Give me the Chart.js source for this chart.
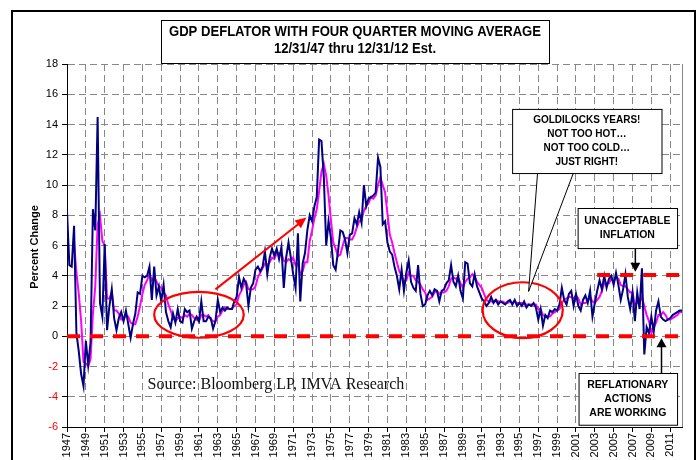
<!DOCTYPE html>
<html>
<head>
<meta charset="utf-8">
<script src="https://cdn.jsdelivr.net/npm/chart.js@4.4.0/dist/chart.umd.min.js"></script>
<style>
  html, body { margin: 0; padding: 0; background: #fff; }
  #wrap { width: 700px; height: 460px; }
</style>
</head>
<body>
<div id="wrap"><canvas id="chart" width="700" height="460"></canvas></div>
<script>
// quarterly, 1947Q1 .. 2012Q2 (percent change, annualized)
const deflator = [
  8.3, 4.7, 4.6, 7.3,    0.2, -1.0, -2.5, -3.3,  -0.3, -1.9, -0.4, 8.4,   7.0, 14.5, 2.2, 1.3,
  6.1, 0.4, 2.0, 3.1,    1.2, 0.4, 1.2, 1.6,     1.0, 1.7, 0.8, -0.1,    0.8, 1.5, 2.9, 2.8,
  4.0, 3.9, 4.0, 4.6,    2.4, 4.6, 2.7, 3.3,     2.3, 3.4, 1.6, 1.0,     0.6, 1.5, 0.9, 1.8,
  1.0, 0.9, 1.8, 1.6,    1.7, 0.5, 1.0, 1.3,     1.0, 2.3, 1.0, 1.0,     1.3, 1.2, 0.5, 1.0,
  2.4, 1.6, 1.9, 1.7,    1.9, 1.8, 1.8, 2.3,     2.6, 3.9, 3.2, 3.8,     3.5, 2.0, 3.2, 3.5,
  4.4, 4.6, 4.3, 4.6,    5.6, 4.1, 5.2, 5.8,     5.3, 5.8, 5.1, 5.9,     3.2, 5.2, 6.2, 5.2,
  4.1, 3.2, 6.8, 2.3,    4.8, 5.5, 7.0, 8.0,     7.6, 8.6, 9.2, 13.0,    12.9, 10.5, 6.0, 7.6,
  6.5, 4.7, 4.4, 5.6,    7.0, 6.9, 6.4, 5.5,     6.7, 6.8, 7.8, 7.4,     8.2, 7.5, 10.0, 8.6,
  9.1, 9.2, 9.3, 9.5,    11.8, 11.2, 7.4, 7.6,   6.2, 5.6, 5.4, 4.6,     4.0, 3.1, 4.4, 3.0,
  4.2, 5.0, 3.6, 3.2,    3.0, 4.7, 2.8, 2.0,     2.1, 2.7, 3.0, 2.7,     3.1, 3.0, 2.3, 3.0,
  3.1, 3.5, 3.7, 4.7,    3.6, 3.3, 4.0, 3.0,     2.5, 4.9, 4.8, 3.5,     3.3, 4.1, 3.3, 2.9,
  2.5, 2.3, 2.0, 2.2,    2.6, 2.2, 2.4, 2.1,     2.3, 2.2, 2.1, 2.3,     2.4, 2.1, 2.4, 2.0,
  2.2, 2.0, 2.3, 1.9,    2.1, 2.0, 2.2, 1.9,     1.1, 1.8, 0.7, 1.4,     1.2, 1.7, 1.6, 1.8,
  1.7, 2.1, 3.2, 2.4,    2.1, 2.8, 3.0, 2.0,     2.8, 2.0, 1.7, 2.4,     2.7, 2.2, 3.0, 1.3,
  2.2, 3.0, 3.7, 3.1,    4.0, 3.2, 3.8, 4.0,     3.4, 4.2, 3.4, 2.4,     3.1, 4.1, 2.6, 1.8,
  2.9, 1.0, 2.9, 1.8,    4.5, -1.2, 0.6, 0.2,    1.3, 0.3, 1.7, 2.3,     1.3, 1.1, 1.0, 1.1,
  1.2, 1.4, 1.5, 1.6,    1.7, 1.7
];

// four quarter moving average, same quarters
const movingAvg = [
  null, null, null, 6.2,  4.2, 2.8, 1.0, -1.7,   -1.8, -2.0, -1.5, 1.5,  3.3, 7.4, 8.0, 6.3,
  6.0, 2.5, 2.5, 2.9,    1.7, 1.7, 1.5, 1.1,     1.1, 1.4, 1.3, 0.9,     0.8, 0.8, 1.3, 2.0,
  2.8, 3.4, 3.7, 4.1,    3.7, 3.9, 3.6, 3.3,     3.2, 2.9, 2.7, 2.1,     1.7, 1.2, 1.0, 1.2,
  1.3, 1.2, 1.4, 1.3,    1.5, 1.4, 1.2, 1.1,     1.0, 1.4, 1.4, 1.3,     1.4, 1.1, 1.0, 1.0,
  1.3, 1.4, 1.7, 1.9,    1.8, 1.8, 1.8, 2.0,     2.1, 2.7, 3.0, 3.4,     3.6, 3.1, 3.1, 3.1,
  3.3, 3.9, 4.2, 4.5,    4.8, 4.7, 4.9, 5.2,     5.1, 5.5, 5.5, 5.5,     5.0, 4.9, 5.1, 5.0,
  5.2, 4.7, 4.8, 4.1,    4.3, 4.9, 4.9, 6.3,     7.0, 7.8, 8.4, 9.6,     10.9, 11.4, 10.6, 9.3,
  7.7, 6.2, 5.8, 5.3,    5.4, 6.0, 6.5, 6.5,     6.4, 6.4, 6.7, 7.2,     7.6, 7.7, 8.3, 8.6,
  8.8, 9.2, 9.1, 9.3,    10.0, 10.5, 10.0, 9.5,  8.1, 6.7, 6.2, 5.5,     4.9, 4.3, 4.0, 3.6,
  3.7, 4.2, 4.0, 4.0,    3.7, 3.6, 3.4, 3.1,     2.9, 2.4, 2.5, 2.6,     2.9, 3.0, 2.8, 2.9,
  2.9, 3.0, 3.3, 3.8,    3.9, 3.8, 3.9, 3.5,     3.2, 3.6, 3.8, 3.9,     4.1, 3.9, 3.6, 3.4,
  3.2, 2.8, 2.4, 2.3,    2.3, 2.3, 2.4, 2.3,     2.3, 2.3, 2.2, 2.2,     2.3, 2.2, 2.3, 2.2,
  2.2, 2.2, 2.1, 2.1,    2.1, 2.1, 2.1, 2.1,     1.8, 1.8, 1.4, 1.3,     1.3, 1.3, 1.5, 1.6,
  1.7, 1.8, 2.2, 2.4,    2.5, 2.6, 2.6, 2.5,     2.7, 2.5, 2.1, 2.2,     2.2, 2.3, 2.6, 2.3,
  2.2, 2.4, 2.6, 3.0,    3.5, 3.5, 3.5, 3.8,     3.6, 3.9, 3.8, 3.4,     3.3, 3.3, 3.1, 2.9,
  2.9, 2.1, 2.2, 2.2,    2.6, 2.0, 1.4, 1.0,     0.2, 0.6, 0.9, 1.4,     1.4, 1.6, 1.4, 1.1,
  1.1, 1.2, 1.3, 1.4,    1.6, 1.6
];

// one label every 8 quarters
const yearLabels = ['1947','1949','1951','1953','1955','1957','1959','1961','1963','1965','1967',
  '1969','1971','1973','1975','1977','1979','1981','1983','1985','1987','1989','1991','1993',
  '1995','1997','1999','2001','2003','2005','2007','2009','2011'];

const titleLines = ['GDP DEFLATOR WITH FOUR QUARTER MOVING AVERAGE', '12/31/47 thru 12/31/12 Est.'];
const goldilocksText = ['GOLDILOCKS YEARS!', 'NOT TOO HOT\u2026', 'NOT TOO COLD\u2026', 'JUST RIGHT!'];
const inflationText = ['UNACCEPTABLE', 'INFLATION'];
const reflationText = ['REFLATIONARY', 'ACTIONS', 'ARE WORKING'];
const sourceText = 'Source: Bloomberg LP, IMVA Research';

const lastQ = deflator.length - 1;

function boxText(ctx, lines, l, t, r, b, lh, font) {
  ctx.fillStyle = '#fff';
  ctx.fillRect(l, t, r - l, b - t);
  ctx.strokeStyle = '#000';
  ctx.lineWidth = 1;
  ctx.strokeRect(l + 0.5, t + 0.5, r - l, b - t);
  ctx.fillStyle = '#000';
  ctx.font = font;
  ctx.textAlign = 'center';
  ctx.textBaseline = 'middle';
  const cx = (l + r) / 2;
  const top = (t + b) / 2 - (lines.length - 1) * lh / 2;
  lines.forEach((s, k) => ctx.fillText(s, cx, top + k * lh));
}

function arrowHead(ctx, x1, y1, x2, y2, len, half) {
  const ang = Math.atan2(y2 - y1, x2 - x1);
  ctx.beginPath();
  ctx.moveTo(x2, y2);
  ctx.lineTo(x2 - len * Math.cos(ang) + half * Math.sin(ang), y2 - len * Math.sin(ang) - half * Math.cos(ang));
  ctx.lineTo(x2 - len * Math.cos(ang) - half * Math.sin(ang), y2 - len * Math.sin(ang) + half * Math.cos(ang));
  ctx.closePath();
  ctx.fill();
}

const frame = {
  id: 'frame',
  beforeDraw(chart) {
    const ctx = chart.ctx;
    ctx.save();
    ctx.fillStyle = '#fff';
    ctx.fillRect(0, 0, chart.width, chart.height);
    ctx.restore();
  },
  afterDraw(chart) {
    const {ctx, chartArea: a} = chart;
    ctx.save();
    // outer border
    ctx.strokeStyle = '#000';
    ctx.lineWidth = 2;
    ctx.strokeRect(12, 11, 683, 470);
    // plot right edge
    ctx.strokeStyle = '#888';
    ctx.lineWidth = 1;
    ctx.beginPath();
    ctx.moveTo(a.right + 0.5, a.top);
    ctx.lineTo(a.right + 0.5, a.bottom);
    ctx.stroke();
    // title box
    ctx.fillStyle = '#fff';
    ctx.fillRect(161, 20, 388, 44);
    ctx.strokeStyle = '#000';
    ctx.strokeRect(161.5, 20.5, 388, 43);
    ctx.fillStyle = '#000';
    ctx.font = "bold 14px 'Liberation Sans Narrow', 'Arial Narrow', 'Liberation Sans', sans-serif";
    ctx.textAlign = 'center';
    ctx.textBaseline = 'middle';
    const w = ctx.measureText(titleLines[0]).width;
    const sx = Math.min(1, 372 / w);
    ctx.save();
    ctx.translate(355, 0);
    ctx.scale(sx, 1);
    ctx.fillText(titleLines[0], 0, 32);
    ctx.fillText(titleLines[1], 0, 49);
    ctx.restore();
    // y axis title
    ctx.save();
    ctx.translate(35, 247);
    ctx.rotate(-Math.PI / 2);
    ctx.font = "bold 11px 'Liberation Sans', Arial, sans-serif";
    ctx.fillText('Percent Change', 0, 0);
    ctx.restore();
    ctx.restore();
  }
};

const notes = {
  id: 'notes',
  afterDatasetsDraw(chart) {
    const {ctx, scales: {x, y}} = chart;
    const X = v => x.getPixelForValue(v);
    const Y = v => y.getPixelForValue(v);
    ctx.save();

    // red dashed levels
    ctx.strokeStyle = '#ff0000';
    ctx.lineWidth = 4;
    ctx.setLineDash([13, 10]);
    ctx.beginPath();
    ctx.moveTo(X(0), Y(0));
    ctx.lineTo(X(lastQ) + 5, Y(0));
    ctx.moveTo(X(225), Y(4.05));
    ctx.lineTo(X(lastQ), Y(4.05));
    ctx.stroke();
    ctx.setLineDash([]);

    // ellipses
    ctx.lineWidth = 2.2;
    ctx.beginPath();
    ctx.ellipse(X(56), Y(1.42), X(19) - X(0), Y(0) - Y(1.52), 0, 0, Math.PI * 2);
    ctx.stroke();
    ctx.beginPath();
    ctx.ellipse(X(193.4), Y(1.72), X(17) - X(0), Y(0) - Y(1.85), 0, 0, Math.PI * 2);
    ctx.stroke();

    // red trend arrow
    const ax1 = X(63), ay1 = Y(3.1), ax2 = X(101.6), ay2 = Y(7.85);
    ctx.lineWidth = 2;
    ctx.beginPath();
    ctx.moveTo(ax1, ay1);
    ctx.lineTo(ax2 - 6, ay2 + 5);
    ctx.stroke();
    ctx.fillStyle = '#ff0000';
    arrowHead(ctx, ax1, ay1, ax2, ay2, 11, 5);

    // source note
    ctx.fillStyle = '#111';
    ctx.font = "16px 'Liberation Serif', 'Times New Roman', serif";
    ctx.textAlign = 'left';
    ctx.textBaseline = 'middle';
    ctx.fillText(sourceText, X(34.2), Y(-3.2));

    // goldilocks callout with pointer
    const gl = X(188.9), gr = X(252.3), gt = Y(15.03), gb = Y(10.79);
    ctx.fillStyle = '#fff';
    ctx.strokeStyle = '#000';
    ctx.lineWidth = 1;
    ctx.beginPath();
    ctx.moveTo(X(199.7), gb);
    ctx.lineTo(X(195.9), Y(2.96));
    ctx.lineTo(X(214.9), gb);
    ctx.closePath();
    ctx.fill();
    ctx.stroke();
    boxText(ctx, goldilocksText, gl, gt, gr, gb, 14, "bold 10px 'Liberation Sans', Arial, sans-serif");

    // unacceptable inflation
    const ul = X(216.7), ur = X(258.9), ut = Y(8.48), ub = Y(5.83);
    boxText(ctx, inflationText, ul, ut, ur, ub, 14, "bold 10.5px 'Liberation Sans', Arial, sans-serif");
    ctx.strokeStyle = '#000';
    ctx.fillStyle = '#000';
    ctx.lineWidth = 1.5;
    ctx.beginPath();
    ctx.moveTo(X(241.2), ub + 1);
    ctx.lineTo(X(241.2), Y(4.27) - 6);
    ctx.stroke();
    arrowHead(ctx, X(241.2), ub, X(241.2), Y(4.27), 9, 5);

    // reflationary actions
    const rl = X(217.1), rr = X(258.9), rt = Y(-2.43), rb = Y(-5.85);
    boxText(ctx, reflationText, rl, rt, rr, rb, 14, "bold 10.5px 'Liberation Sans', Arial, sans-serif");
    ctx.strokeStyle = '#000';
    ctx.fillStyle = '#000';
    ctx.lineWidth = 1.5;
    ctx.beginPath();
    ctx.moveTo(X(252.3), rt);
    ctx.lineTo(X(252.3), Y(-0.13) + 6);
    ctx.stroke();
    arrowHead(ctx, X(252.3), rt, X(252.3), Y(-0.13), 9, 5);

    ctx.restore();
  }
};

new Chart(document.getElementById('chart'), {
  type: 'line',
  data: {
    datasets: [
      {
        label: 'GDP Deflator',
        data: deflator.map((v, i) => ({x: i, y: v})),
        borderColor: '#000080',
        borderWidth: 2,
        pointRadius: 0,
        tension: 0
      },
      {
        label: 'Four Quarter Moving Average',
        data: movingAvg.map((v, i) => ({x: i, y: v})),
        borderColor: '#ff00ff',
        borderWidth: 2,
        pointRadius: 0,
        tension: 0
      }
    ]
  },
  options: {
    responsive: false,
    animation: false,
    devicePixelRatio: 1,
    layout: { padding: { top: 64, right: 18, bottom: 0, left: 0 } },
    plugins: { legend: { display: false }, tooltip: { enabled: false } },
    scales: {
      x: {
        type: 'linear',
        min: 0,
        max: lastQ,
        afterFit: s => { s.height = 33; },
        afterBuildTicks: s => { s.ticks = yearLabels.map((l, k) => ({value: k * 8})); },
        ticks: {
          callback: (v, k) => yearLabels[k],
          minRotation: 90,
          maxRotation: 90,
          padding: 1,
          color: '#000',
          font: { family: "'Liberation Sans', Arial, sans-serif", size: 11 }
        },
        grid: { color: '#888', lineWidth: 1, tickLength: 5, tickColor: '#000' },
        border: { display: true, color: '#000', width: 1, dash: [7, 4] }
      },
      y: {
        min: -6,
        max: 18,
        afterFit: s => { s.width = 67; },
        ticks: {
          stepSize: 2,
          padding: 4,
          color: c => (c.tick && c.tick.value < 0 ? '#ff0000' : '#000'),
          font: { family: "'Liberation Sans', Arial, sans-serif", size: 11 }
        },
        grid: { color: '#888', lineWidth: 1, tickLength: 5, tickColor: '#000' },
        border: { display: true, color: '#000', width: 1, dash: [7, 4] }
      }
    }
  },
  plugins: [frame, notes]
});
</script>
</body>
</html>
